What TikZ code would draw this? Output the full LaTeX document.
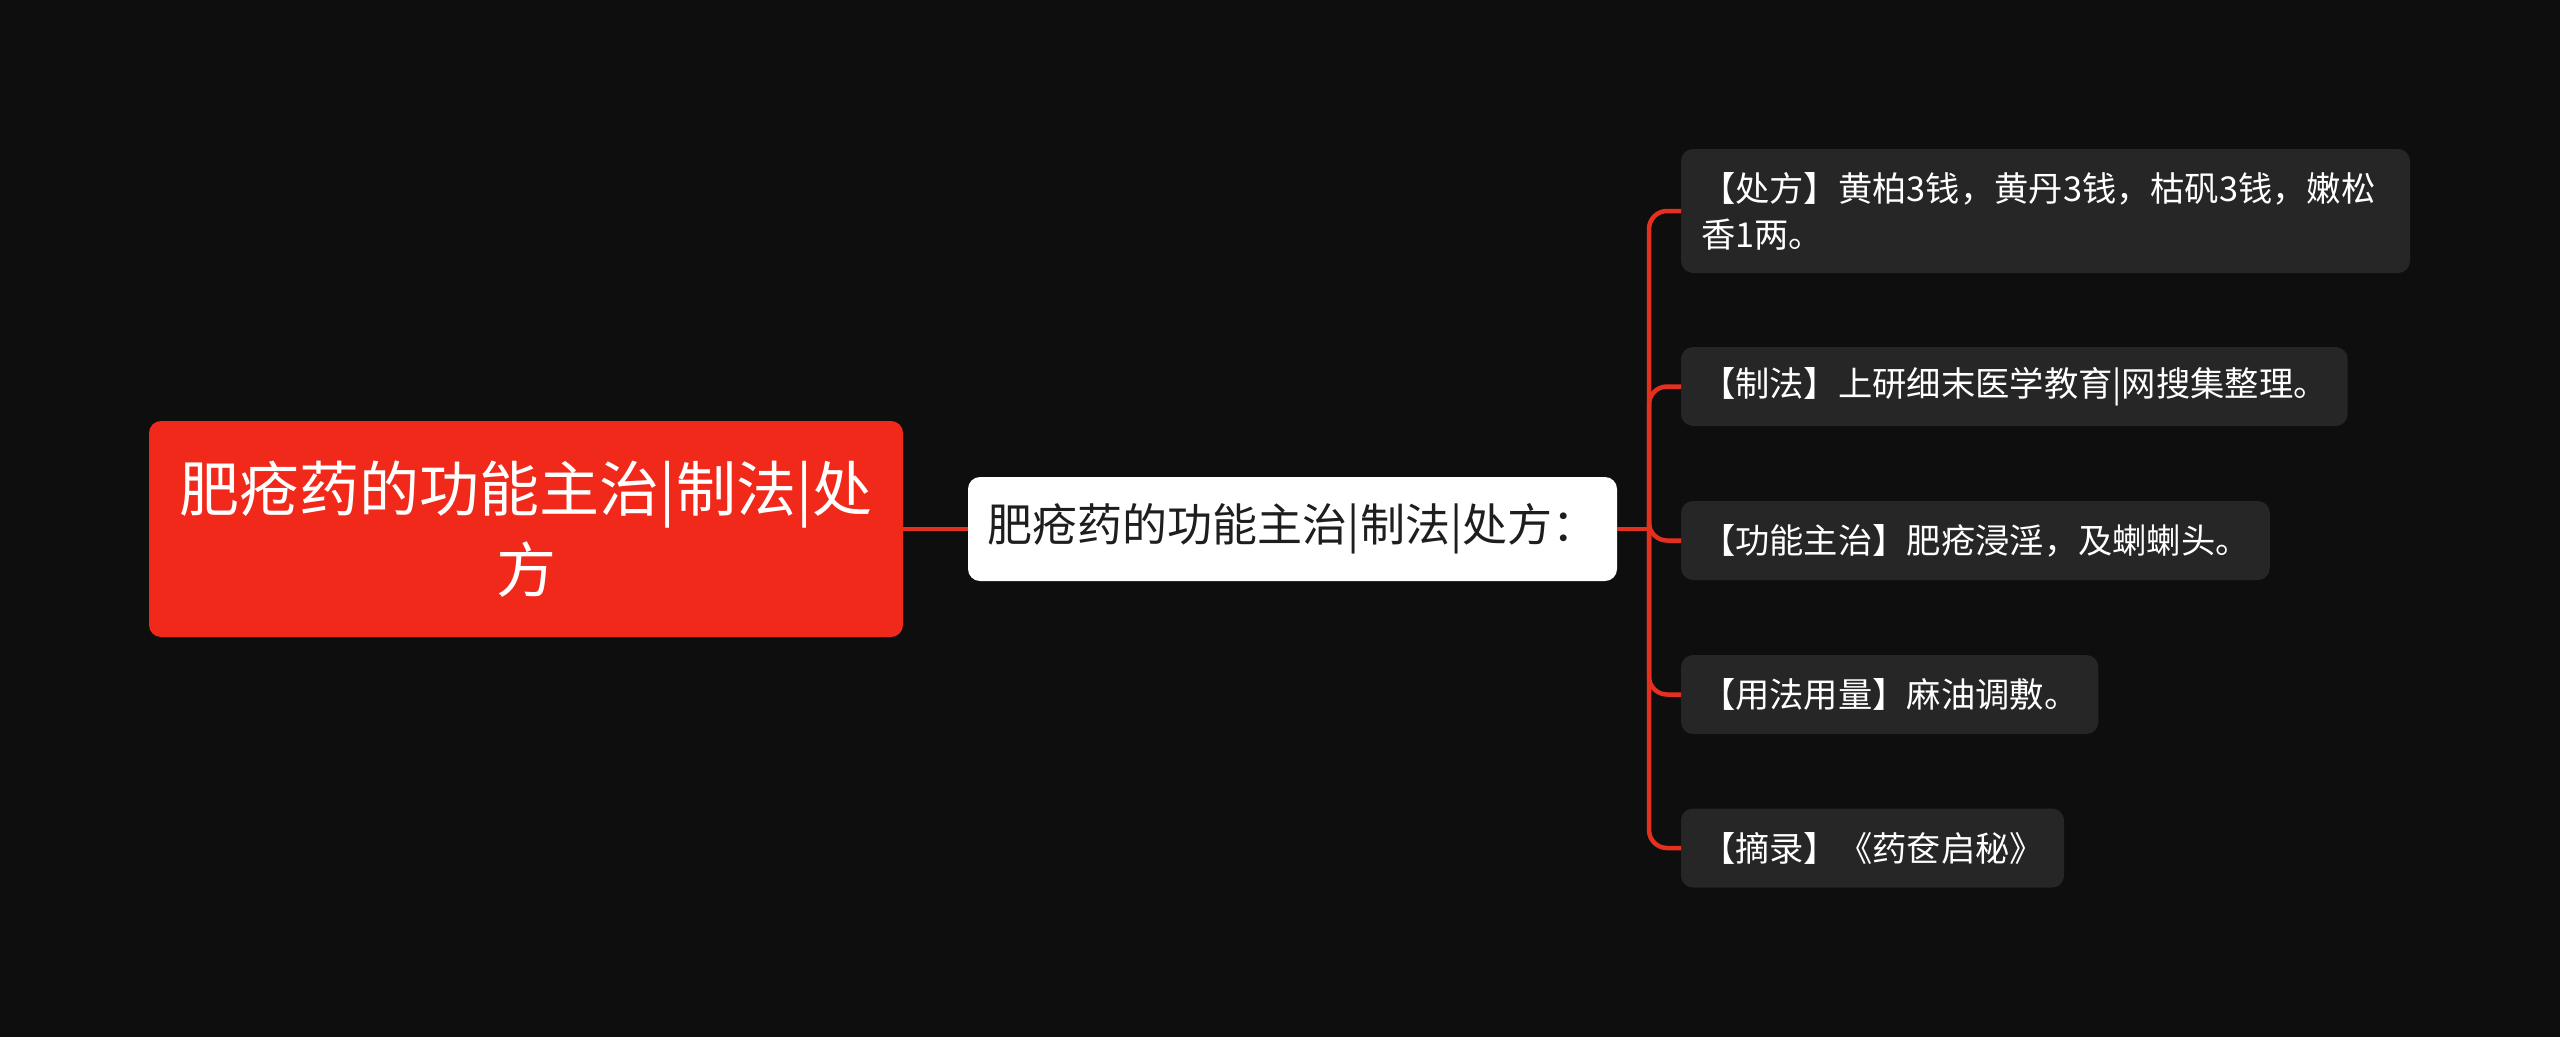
\documentclass[tikz,border=0pt]{standalone}
\usepackage{fontspec}
\setmainfont{Noto Sans CJK SC}
\usetikzlibrary{positioning}
\definecolor{bgdark}{HTML}{0E0E0E}
\definecolor{rootred}{HTML}{F1291A}
\definecolor{linkred}{HTML}{E5301F}
\definecolor{leafgray}{HTML}{262626}
\definecolor{inkdark}{HTML}{1E1E1E}

\begin{document}
\begin{tikzpicture}[
  x=1pt, y=-1pt,
  every node/.style={inner sep=0pt, outer sep=0pt},
  rootbox/.style={fill=rootred, rounded corners=12pt, minimum width=754pt, minimum height=216pt,
    align=center, text=white, font=\fontsize{60}{81}\selectfont},
  midbox/.style={fill=white, rounded corners=12pt, minimum width=649pt, minimum height=104pt,
    text=inkdark, font=\fontsize{45}{56}\selectfont},
  leafbox/.style={fill=leafgray, rounded corners=12pt, anchor=west, inner xsep=20pt,
    minimum height=79pt, text=white, align=left, font=\fontsize{34.3}{46}\selectfont},
  link/.style={draw=linkred, line width=4.5pt, rounded corners=18pt}
]
\useasboundingbox (0,0) rectangle (2560,1037);
\fill[bgdark] (0,0) rectangle (2560,1037);
% main topic and its subtopic
\node[rootbox] (root) at (526,529) {肥疮药的功能主治|制法|处\\方};
\node[midbox] (mid) at (1292.5,529) {肥疮药的功能主治|制法|处方：};
\coordinate (fork) at (1649,529);
% leaves
\node[leafbox, text width=689pt, minimum height=124pt] (chufang) at (1681,211)
  {【处方】黄柏3钱，黄丹3钱，枯矾3钱，嫩松\\香1两。};
\foreach \name/\ypos/\txt in {
  zhifa/386.5/{【制法】上研细末医学教育|网搜集整理。},
  gongneng/540.5/{【功能主治】肥疮浸淫，及蝲蝲头。},
  yongfa/694.5/{【用法用量】麻油调敷。},
  zhailu/848/{【摘录】《药奁启秘》}}{
  \node[leafbox] (\name) at (1681,\ypos) {\txt};
}
% connectors
\draw[link] (root.east) -- (mid.west);
\draw[link] (mid.east) -- (fork);
\foreach \name in {chufang,zhifa,gongneng,yongfa,zhailu}
  \draw[link] (fork) |- (\name.west);
\end{tikzpicture}
\end{document}
